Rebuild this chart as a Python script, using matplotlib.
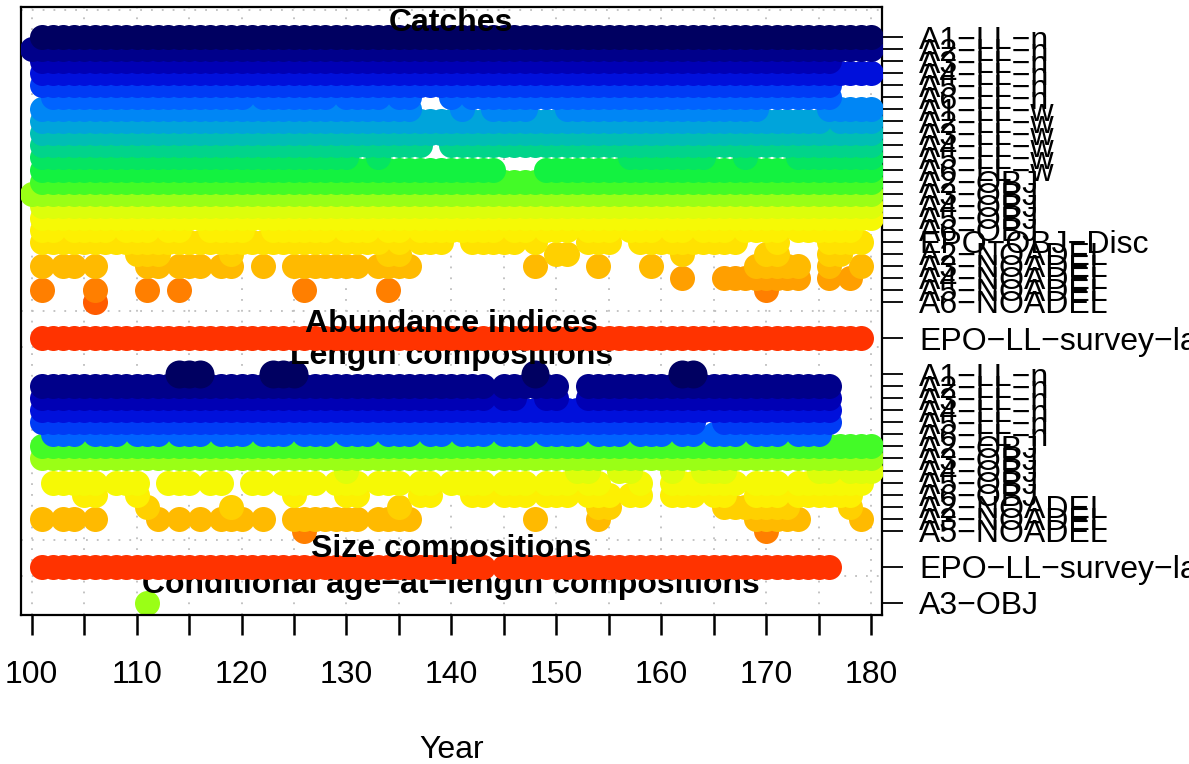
import matplotlib
matplotlib.use("Agg")
import matplotlib.pyplot as plt
import numpy as np

plt.rcParams['font.family'] = ['Liberation Sans', 'DejaVu Sans']


def yrs(*parts):
    out = []
    for p in parts:
        if isinstance(p, tuple):
            out.extend(range(p[0], p[1] + 1))
        else:
            out.append(p)
    return out


fleets = ["A1-LL-n", "A2-LL-n", "A3-LL-n", "A4-LL-n", "A5-LL-n", "A6-LL-n",
          "A1-LL-w", "A2-LL-w", "A3-LL-w", "A4-LL-w", "A5-LL-w", "A6-LL-w",
          "A2-OBJ", "A3-OBJ", "A4-OBJ", "A5-OBJ", "A6-OBJ", "EPO-OBJ-Disc",
          "A2-NOADEL", "A3-NOADEL", "A4-NOADEL", "A5-NOADEL", "A6-NOADEL",
          "EPO-LL-survey-late"]

# ---- Catches (fleets 1..23) ----
catch_fleets = list(range(23))
catch_years = [
    yrs((101, 180)),                                               # A1-LL-n
    yrs((100, 180)),                                               # A2-LL-n
    yrs((101, 176)),                                               # A3-LL-n
    yrs((101, 180)),                                               # A4-LL-n
    yrs((101, 176)),                                               # A5-LL-n
    yrs((102, 120), (122, 128), (130, 133), (135, 136), 140, (142, 176)),  # A6-LL-n
    yrs((101, 136), 141, (144, 147), (151, 169), (176, 180)),      # A1-LL-w
    yrs((101, 175), (177, 180)),                                   # A2-LL-w
    yrs((101, 180)),                                               # A3-LL-w
    yrs((101, 137), (140, 180)),                                   # A4-LL-w
    yrs((101, 130), 133, (157, 164), 168, (173, 180)),             # A5-LL-w
    yrs((101, 144), (149, 180)),                                   # A6-LL-w
    yrs((101, 180)),                                               # A2-OBJ
    yrs((100, 180)),                                               # A3-OBJ
    yrs((101, 180)),                                               # A4-OBJ
    yrs((101, 180)),                                               # A5-OBJ
    yrs((101, 102), (104, 107), (109, 111), (113, 114), (117, 120), (123, 128),
        (130, 132), (134, 135), (137, 144), (146, 147), (149, 151), (153, 155),
        (157, 159), (161, 162), (164, 166), (168, 171), (173, 178)),  # A6-OBJ
    yrs((101, 133), 135, (137, 139), (142, 146), 148, (153, 155), (158, 167),
        171, (176, 179)),                                          # EPO-OBJ-Disc
    yrs((110, 112), 119, (134, 135), (150, 151), 162, (170, 171), (176, 177)),  # A2-NOADEL
    yrs(101, (103, 104), 106, (111, 112), (114, 116), (118, 119), 122, (125, 131),
        (133, 136), 148, 154, 159, (169, 173), 176, 179),          # A3-NOADEL
    yrs(162, (166, 173), 176, 178),                                # A4-NOADEL
    yrs(101, 106, 111, 114, 126, 134, 170),                        # A5-NOADEL
    yrs(106),                                                      # A6-NOADEL
]

# ---- Abundance indices ----
index_fleets = [23]
index_years = [yrs((101, 179))]

# ---- Length compositions ----
length_fleets = [0, 1, 2, 3, 4, 5, 12, 13, 14, 15, 16, 18, 19, 21]
length_years = [
    yrs((114, 116), (123, 125), 148, (162, 163)),
    yrs((101, 143), (145, 150), (153, 176)),
    yrs((101, 143), (145, 146), (149, 150), (153, 176)),
    yrs((101, 176)),
    yrs((101, 163), (166, 176)),
    yrs((102, 104), (106, 108), (110, 112), (114, 116), (118, 120), (122, 124),
        (126, 128), (130, 132), (134, 136), (138, 139), (141, 143), (145, 147),
        (149, 152), (154, 156), (158, 160), (162, 163), (165, 167), (169, 171),
        (173, 175)),
    yrs((101, 180)),
    yrs((101, 180)),
    yrs(130, (152, 153), (156, 157), 161, (164, 166), (175, 176), (178, 180)),
    yrs((102, 106), (108, 110), (113, 115), (117, 118), (121, 122), (124, 127),
        (129, 131), (133, 135), (137, 138), (140, 143), (145, 147), (149, 151),
        (153, 154), 158, (161, 167), (169, 171), (173, 179)),
    yrs((105, 106), 110, 125, (130, 131), (137, 138), (142, 143), (145, 147),
        (149, 151), (153, 155), (157, 158), (161, 163), (165, 166), (169, 171),
        (173, 178)),
    yrs(111, 119, 135, (154, 155), (166, 172), 178),
    yrs(101, (103, 104), 106, 112, 114, 116, (118, 120), 122, (125, 131),
        (133, 136), 148, 154, (169, 173), 179),
    yrs(126, 170),
]

# ---- Size compositions ----
size_fleets = [23]
size_years = [yrs((101, 143), (145, 176))]

# ---- Conditional age-at-length ----
caal_fleets = [13]
caal_years = [yrs(111)]

section_titles = ["Catches", "Abundance indices", "Length compositions",
                  "Size compositions", "Conditional age\u2212at\u2212length compositions"]
x_ticks = list(range(100, 181, 5))
x_labels = [str(t) if t % 10 == 0 else "" for t in x_ticks]


def rich_colors_short(n):
    x = np.linspace(0, 1, n)
    r = 1 / (1 + np.exp(20 - 35 * x))
    g = np.clip(-0.8 + 6 * x - 5 * x ** 2, 0, 1)
    b = np.exp(-0.5 * ((x - 0.25) / 0.15) ** 2)
    return list(zip(r, g, b))


fleet_cols = rich_colors_short(len(fleets) + 1)[1:]

fig = plt.figure(figsize=(11.89, 7.64), dpi=100)
ax = fig.add_axes([21.2 / 1189, 1 - 615 / 764, (881.5 - 21.2) / 1189, (615 - 7) / 764])
ax.set_xlim(99, 181)
ax.set_ylim(0, 50.5)

# section layout (top to bottom): title, fleets, years, top row, title offset
sections = [
    (section_titles[0], catch_fleets, catch_years, 48, 1.5),
    (section_titles[1], index_fleets, index_years, 23, 1.5),
    (section_titles[2], length_fleets, length_years, 20, 1.8),
    (section_titles[3], size_fleets, size_years, 4, 1.8),
    (section_titles[4], caal_fleets, caal_years, 1, 1.8),
]

# grid
for xv in x_ticks:
    ax.axvline(xv, color="#bebebe", lw=1.3, ls=(0, (1, 5)), zorder=0)
for sec in sections:
    ax.axhline(sec[3] + 2.25, color="#bebebe", lw=1.3, ls=(0, (1, 5)), zorder=0)

ms = 18.0
z = 1
ytick_pos, ytick_lab = [], []
for title, flist, ylist, top, toff in reversed(sections):
    n = len(flist)
    for j in reversed(range(n)):
        yv = top - j
        f = flist[j]
        yy = ylist[j]
        size = ms * (1.12 if (title == section_titles[2] and j == 0) else 1.0)
        ax.plot(yy, [yv] * len(yy), ls="none", marker="o", ms=size,
                mfc=fleet_cols[f], mec="none", zorder=z, clip_on=True)
        z += 1
        ytick_pos.append(yv)
        ytick_lab.append(fleets[f].replace("-", "\u2212"))
    ax.text(140, top + toff, title, ha="center", va="center_baseline",
            fontsize=23, fontweight="bold", zorder=z)
    z += 1

ax.yaxis.tick_right()
ax.set_yticks(ytick_pos)
ax.set_yticklabels(ytick_lab)
ax.tick_params(axis="y", length=15, width=1.3, pad=12, labelsize=23)
ax.set_xticks(x_ticks)
ax.set_xticklabels(x_labels)
ax.tick_params(axis="x", length=14.5, width=1.8, pad=18, labelsize=23)
for s in ax.spines.values():
    s.set_linewidth(1.6)

fig.text(452 / 1189, 1 - 750 / 764, "Year", ha="center", va="center", fontsize=23)

fig.savefig("out.png", dpi=100)
